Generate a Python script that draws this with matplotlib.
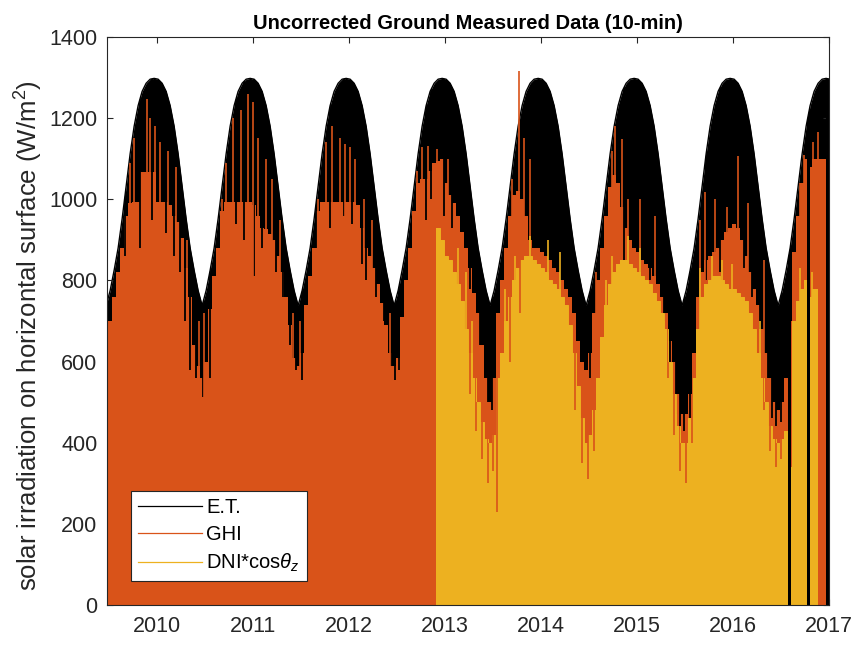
import numpy as np
import matplotlib
matplotlib.use("Agg")
import matplotlib.pyplot as plt
from matplotlib.lines import Line2D

plt.rcParams['font.family'] = ['Liberation Sans', 'DejaVu Sans']
plt.rcParams['mathtext.fontset'] = 'custom'
plt.rcParams['mathtext.rm'] = 'Liberation Sans'
plt.rcParams['mathtext.it'] = 'Liberation Sans:italic'
plt.rcParams['mathtext.bf'] = 'Liberation Sans:bold'

# ---- daily-maximum envelopes, sampled twice a month (decimal years) ----
sample_start = 2009.47
samples_per_year = 24

# extraterrestrial irradiance on a horizontal surface (W/m2)
et_max = [
    738, 775, 825, 880, 952, 1032, 1112, 1180, 1231, 1266, 1286, 1296, 1298, 1296, 1286, 1266, 1231, 1180, 1112, 1032, 952, 880, 825, 775,
    738, 775, 825, 880, 952, 1032, 1112, 1180, 1231, 1266, 1286, 1296, 1298, 1296, 1286, 1266, 1231, 1180, 1112, 1032, 952, 880, 825, 775,
    738, 775, 825, 880, 952, 1032, 1112, 1180, 1231, 1266, 1286, 1296, 1298, 1296, 1286, 1266, 1231, 1180, 1112, 1032, 952, 880, 825, 775,
    738, 775, 825, 880, 952, 1032, 1112, 1180, 1231, 1266, 1286, 1296, 1298, 1296, 1286, 1266, 1231, 1180, 1112, 1032, 952, 880, 825, 775,
    738, 775, 825, 880, 952, 1032, 1112, 1180, 1231, 1266, 1286, 1296, 1298, 1296, 1286, 1266, 1231, 1180, 1112, 1032, 952, 880, 825, 775,
    738, 775, 825, 880, 952, 1032, 1112, 1180, 1231, 1266, 1286, 1296, 1298, 1296, 1286, 1266, 1231, 1180, 1112, 1032, 952, 880, 825, 775,
    738, 775, 825, 880, 952, 1032, 1112, 1180, 1231, 1266, 1286, 1296, 1298, 1296, 1286, 1266, 1231, 1180, 1112, 1032, 952, 880, 825, 775,
    738, 775, 825, 880, 952, 1032, 1112, 1180, 1231, 1266, 1286, 1296, 1298, 1296,
]

# global horizontal irradiance, typical daily maximum (W/m2)
ghi_max = [
    540, 700, 760, 820, 880, 960, 990, 993, 993, 1067, 1067, 1067, 1067, 993, 993, 993, 985, 960, 945, 905, 830, 760, 640, 590,
    560, 600, 730, 810, 880, 970, 993, 993, 993, 993, 993, 993, 993, 985, 960, 930, 926, 915, 900, 860, 820, 760, 690, 610,
    590, 620, 740, 810, 880, 970, 993, 993, 993, 993, 993, 993, 993, 993, 993, 985, 930, 880, 860, 830, 790, 745, 690, 620,
    590, 610, 710, 800, 880, 970, 1040, 1050, 1050, 1070, 1090, 1095, 1100, 1040, 1010, 990, 960, 920, 880, 830, 770, 720, 640, 560,
    500, 560, 720, 800, 880, 960, 1010, 1020, 1000, 960, 900, 880, 880, 870, 860, 850, 830, 820, 800, 780, 760, 720, 650, 600,
    580, 620, 720, 800, 880, 960, 1030, 1060, 1040, 980, 930, 900, 880, 870, 850, 840, 830, 810, 790, 760, 720, 650, 600, 520,
    470, 470, 520, 620, 760, 820, 850, 860, 870, 880, 900, 920, 930, 940, 930, 900, 860, 820, 780, 740, 680, 620, 560, 500,
    480, 500, 560, 700, 870, 960, 1040, 1100, 1080, 1100, 1100, 1100, 1100, 1100,
]

# direct normal irradiance projected on the horizontal, typical daily maximum (W/m2)
dni_max = [
    0, 0, 0, 0, 0, 0, 0, 0, 0, 0, 0, 0, 0, 0, 0, 0, 0, 0, 0, 0, 0, 0, 0, 0,
    0, 0, 0, 0, 0, 0, 0, 0, 0, 0, 0, 0, 0, 0, 0, 0, 0, 0, 0, 0, 0, 0, 0, 0,
    0, 0, 0, 0, 0, 0, 0, 0, 0, 0, 0, 0, 0, 0, 0, 0, 0, 0, 0, 0, 0, 0, 0, 0,
    0, 0, 0, 0, 0, 0, 0, 0, 0, 0, 0, 930, 900, 860, 850, 820, 790, 750, 680, 620, 560, 500, 450, 410,
    400, 420, 560, 620, 700, 760, 800, 830, 850, 860, 860, 850, 840, 830, 820, 800, 790, 780, 760, 740, 690, 620, 540, 460,
    400, 420, 480, 560, 660, 740, 790, 820, 840, 850, 850, 840, 830, 820, 810, 800, 790, 770, 750, 720, 680, 600, 520, 440,
    400, 400, 460, 560, 680, 760, 790, 800, 810, 810, 800, 790, 780, 780, 770, 760, 750, 720, 680, 620, 560, 500, 440, 410,
    400, 410, 430, 340, 700, 750, 780, 800, 760, 780, 780, 760, 760, 760,
]

# individual days with an unusually high GHI peak
ghi_peak_days = [2009.719, 2009.760, 2009.896, 2009.927, 2009.979, 2010.031, 2010.115, 2010.198,
                 2010.3125, 2010.4375, 2010.490, 2010.677, 2010.719, 2010.792, 2010.875, 2010.948,
                 2011.000, 2011.052, 2011.135, 2011.198, 2011.281, 2011.417, 2011.490, 2011.677,
                 2011.760, 2011.823, 2011.906, 2011.958, 2012.010, 2012.0625, 2012.156, 2012.240,
                 2012.427, 2012.708, 2012.760, 2012.823, 2012.917, 2013.031, 2013.698, 2013.771,
                 2013.823, 2013.885, 2014.573, 2014.740, 2014.771, 2014.844, 2014.906, 2015.031,
                 2015.1875, 2015.656, 2015.708, 2015.8125, 2015.9375, 2016.052, 2016.156, 2016.323,
                 2016.698, 2016.740, 2016.833, 2016.885]
ghi_peak_vals = [1090, 1150, 1247, 1200, 1180, 1140, 1120, 1080,
                 900, 700, 720, 1000, 1090, 1200, 1220, 1260,
                 1240, 1150, 1100, 1050, 950, 720, 700, 1000,
                 1140, 1180, 1150, 1136, 1130, 1100, 1000, 950,
                 720, 1070, 1130, 1131, 1123, 1100, 1050, 1316,
                 1150, 1100, 820, 1120, 1180, 1148, 1000, 1000,
                 960, 950, 1017, 1000, 980, 1106, 990, 850,
                 1040, 1110, 1140, 1165]

# cloudy days on which GHI stayed well below the typical maximum
ghi_low_days = [2009.667, 2009.823, 2009.948, 2010.094, 2010.177, 2010.240, 2010.292, 2010.344,
                2010.406, 2010.479, 2010.552, 2010.823, 2010.906, 2011.010, 2011.094, 2011.240,
                2011.3125, 2011.385, 2011.448, 2011.510, 2011.656, 2011.802, 2011.948, 2012.031,
                2012.135, 2012.177, 2012.281, 2012.365, 2012.4375, 2012.479, 2012.521, 2012.802,
                2012.854, 2012.990, 2013.073, 2013.260, 2013.365, 2013.448, 2013.490, 2014.510,
                2014.865, 2015.135, 2015.281, 2015.344, 2015.406, 2015.448, 2015.490, 2015.552,
                2015.719, 2015.865, 2016.115, 2016.198, 2016.281, 2016.365, 2016.406, 2016.448,
                2016.500]
ghi_low_vals = [860, 880, 950, 918, 860, 820, 700, 580,
                560, 513, 560, 940, 900, 810, 880, 820,
                760, 640, 580, 555, 880, 930, 960, 940,
                840, 800, 760, 700, 590, 555, 580, 950,
                1000, 960, 930, 780, 640, 500, 480, 560,
                850, 800, 700, 600, 470, 420, 430, 460,
                800, 820, 830, 760, 680, 560, 460, 440,
                450]

# individual days with an unusually high DNI*cos(theta_z) peak
dni_peak_days = [2013.135, 2013.219, 2013.281, 2013.625, 2013.729, 2013.885, 2014.073, 2014.198,
                 2014.677, 2014.740, 2014.906, 2015.031, 2015.656, 2015.781, 2015.885, 2015.990,
                 2016.281, 2016.698, 2016.823]
dni_peak_vals = [880, 820, 700, 780, 860, 909, 900, 870,
                 800, 860, 909, 880, 830, 860, 850, 840,
                 700, 830, 820]

# overcast days with a low DNI*cos(theta_z) maximum
dni_low_days = [2013.260, 2013.323, 2013.385, 2013.448, 2013.500, 2013.542, 2013.677, 2013.781,
                2014.354, 2014.427, 2014.490, 2014.552, 2015.323, 2015.385, 2015.448, 2015.510,
                2015.573, 2016.323, 2016.385, 2016.448, 2016.500]
dni_low_vals = [520, 430, 360, 300, 330, 230, 600, 720,
                480, 350, 310, 380, 560, 420, 330, 300,
                400, 480, 380, 340, 360]

# periods without any ground measurement, and without DNI only
data_gaps = [(2016.573, 2016.604), (2016.771, 2016.797), (2016.969, 2017.02)]
dni_gaps = [(2016.885, 2016.969)]

year_ticks = [2010, 2011, 2012, 2013, 2014, 2015, 2016, 2017]
irr_ticks = [0, 200, 400, 600, 800, 1000, 1200, 1400]

C_ET = '#000000'
C_GHI = '#D95319'
C_DNI = '#EDB120'
C_AX = '#262626'

t = sample_start + np.arange(len(et_max)) / samples_per_year

fig = plt.figure(figsize=(8.57, 6.45), dpi=100)
ax = fig.add_axes([107 / 857, 1 - 605 / 645, (829 - 107) / 857, (605 - 37) / 645])

# E.T. envelope
et_poly = ax.fill_between(t, 0, et_max, color=C_ET, lw=0, zorder=1)
ax.plot(t, et_max, color=C_ET, lw=1.0, zorder=1.1)
et_path = et_poly.get_paths()[0]

# GHI
ghi_poly = ax.fill_between(t, 0, ghi_max, step='mid', color=C_GHI, lw=0, zorder=2)
ghi_path = ghi_poly.get_paths()[0]
low = ax.vlines(ghi_low_days, ghi_low_vals, 1400, color=C_ET, lw=1.3, zorder=3)
low.set_clip_path(et_path, ax.transData)
ax.vlines(ghi_peak_days, 0, ghi_peak_vals, color=C_GHI, lw=1.2, zorder=4)

# DNI*cos(theta_z)
dni_poly = ax.fill_between(t, 0, dni_max, step='mid', color=C_DNI, lw=0, zorder=5)
dni_path = dni_poly.get_paths()[0]
ax.plot(t, dni_max, drawstyle='steps-mid', color=C_DNI, lw=0.7, zorder=5.5)
dlow = ax.vlines(dni_low_days, dni_low_vals, 1400, color=C_GHI, lw=1.2, zorder=6)
dlow.set_clip_path(dni_path, ax.transData)
ax.vlines(dni_peak_days, 0, dni_peak_vals, color=C_DNI, lw=1.2, zorder=7)

# missing records
for a, b in dni_gaps:
    sp = ax.axvspan(a, b, color=C_GHI, lw=0, zorder=8)
    sp.set_clip_path(ghi_path, ax.transData)
for a, b in data_gaps:
    sp = ax.axvspan(a, b, color=C_ET, lw=0, zorder=9)
    sp.set_clip_path(et_path, ax.transData)

ax.set_xlim(2009.479, 2017.0)
ax.set_ylim(0, 1400)
ax.set_xticks(year_ticks)
ax.set_xticklabels([str(y) for y in year_ticks])
ax.set_yticks(irr_ticks)
ax.tick_params(direction='in', top=True, right=True, length=4, width=0.8,
               colors=C_AX, labelsize=15.5)
ax.tick_params(axis='x', pad=8)
ax.tick_params(axis='y', pad=7)
for sp in ax.spines.values():
    sp.set_color(C_AX)
    sp.set_linewidth(0.8)
    sp.set_zorder(20)

ax.set_title('Uncorrected Ground Measured Data (10-min)', fontsize=14.5,
             fontweight='bold', color='black', pad=6)
ax.set_ylabel('solar irradiation on horizontal surface (W/m$^2$)', fontsize=18.5,
              color=C_AX)
ax.yaxis.set_label_coords(-0.086, 0.475)

handles = [Line2D([], [], color=C_ET, lw=0.9),
           Line2D([], [], color=C_GHI, lw=0.9),
           Line2D([], [], color=C_DNI, lw=0.9)]
leg = ax.legend(handles, ['E.T.', 'GHI', r'DNI*cos$\theta_z$'],
                loc='lower left', bbox_to_anchor=(0.033, 0.042), borderaxespad=0,
                fontsize=14.5, handlelength=3.2, handletextpad=0.2,
                labelspacing=0.38, borderpad=0.35, frameon=True, fancybox=False,
                edgecolor=C_AX, framealpha=1)
leg.get_frame().set_linewidth(0.8)
leg.set_zorder(30)

fig.savefig('out.png', dpi=100)
